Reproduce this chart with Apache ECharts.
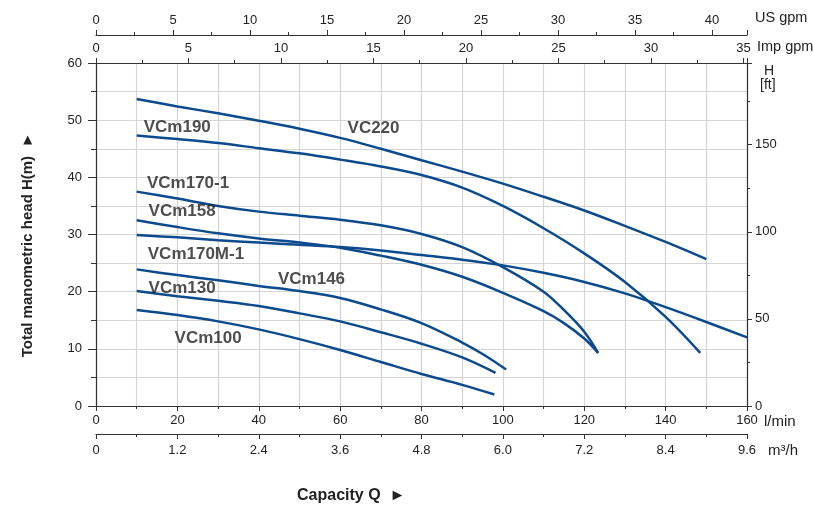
<!DOCTYPE html>
<html><head><meta charset="utf-8">
<script src="https://cdn.jsdelivr.net/npm/echarts@6/dist/echarts.min.js"></script>
<style>html,body{margin:0;padding:0;background:#fff}#c{width:813px;height:512px}</style>
</head><body><div id="c"></div>
<script>
// Flow in l/min, head in m
const flowVC220 = [10,20,30,40,50,60,70,80,90,100,110,120,130,140,150];
const headVC220 = [53.7,52.4,51.2,49.9,48.5,46.9,45.0,43.0,41.0,38.9,36.6,34.2,31.5,28.7,25.7];
const flowVCm190 = [10,20,30,40,50,60,70,80,90,100,110,120,130,140,148.5];
const headVCm190 = [47.3,46.7,46.0,45.1,44.2,43.1,41.9,40.4,38.2,35.0,31.1,26.7,21.7,15.6,9.3];
const flowVCm170_1 = [10,20,30,40,50,60,70,80,90,100,110,115,120,123.4];
const headVCm170_1 = [37.5,36.3,35.0,34.0,33.3,32.6,31.6,30.1,27.8,24.3,20.0,16.8,13.0,9.3];
const flowVCm158 = [10,20,30,40,50,60,70,80,90,100,110,115,120,123.4];
const headVCm158 = [32.5,31.3,30.2,29.3,28.6,27.7,26.3,24.7,22.6,19.8,16.6,14.5,11.8,9.3];
const flowVCm170M_1 = [10,20,30,40,50,60,70,80,90,100,110,120,130,140,150,160];
const headVCm170M_1 = [29.9,29.5,29.0,28.6,28.2,27.8,27.2,26.4,25.6,24.6,23.3,21.7,19.7,17.3,14.7,12.0];
const flowVCm146 = [10,20,30,40,50,60,70,80,90,95,100.8];
const headVCm146 = [23.9,22.9,22.0,21.0,20.1,18.9,16.9,14.5,11.1,9.1,6.4];
const flowVCm130 = [10,20,30,40,50,60,70,80,90,98.2];
const headVCm130 = [20.1,19.2,18.4,17.5,16.2,14.8,12.9,10.9,8.5,5.8];
const flowVCm100 = [10,20,30,40,50,60,70,80,90,97.9];
const headVCm100 = [16.8,15.9,14.8,13.4,11.7,9.8,7.7,5.6,3.7,2.0];

// Curve labels (left anchor)
const labelNames = ['VCm190','VC220','VCm170-1','VCm158','VCm170M-1','VCm146','VCm130','VCm100'];
const labelFlow  = [11.6, 61.7, 12.4, 12.8, 12.6, 44.6, 12.8, 19.2];
const labelHead  = [48.8, 48.5, 39.0, 34.0, 26.5, 22.2, 20.5, 11.9];

const LPM_PER_IMP = 4.54609, LPM_PER_US = 3.78541, M_PER_FT = 0.3048;
const FONT = 'Liberation Sans, Arial, sans-serif';
const LINE = '#0b4a8d';
const TXT = '#222';
const AX = '#333';
const GRIDC = '#d4d4d4';

function pairs(f,h){ return f.map((q,i)=>[q,h[i]]); }
function isMult(v,s){ return Math.abs(v/s - Math.round(v/s)) < 1e-6; }

const curves = [
  pairs(flowVC220, headVC220), pairs(flowVCm190, headVCm190),
  pairs(flowVCm170_1, headVCm170_1), pairs(flowVCm158, headVCm158),
  pairs(flowVCm170M_1, headVCm170M_1), pairs(flowVCm146, headVCm146),
  pairs(flowVCm130, headVCm130), pairs(flowVCm100, headVCm100)
];

const baseAxis = {
  axisLine:{show:true,onZero:false,lineStyle:{color:AX,width:1.2}},
  axisTick:{show:true,length:5,lineStyle:{color:AX,width:1}},
  minorTick:{show:true,splitNumber:2,length:3,lineStyle:{color:AX,width:1}},
  axisLabel:{fontSize:13,color:TXT,fontFamily:FONT},
  splitLine:{show:false}
};
function ax(o){ return Object.assign({}, JSON.parse(JSON.stringify(baseAxis)), o); }

const chart = echarts.init(document.getElementById('c'));
chart.setOption({
  animation:false,
  grid:{left:96,right:66,top:63,bottom:106},
  xAxis:[
    ax({type:'value',position:'bottom',offset:0,min:0,max:160,interval:20,
        axisLabel:{fontSize:13,color:TXT,fontFamily:FONT,margin:8},
        splitLine:{show:true,lineStyle:{color:GRIDC,width:1.2}},
        minorSplitLine:{show:true,lineStyle:{color:GRIDC,width:1.2}}}),
    ax({type:'value',position:'bottom',offset:28,min:0,max:9.6,interval:1.2,
        axisLabel:{fontSize:13,color:TXT,fontFamily:FONT,margin:10,
          formatter:v=> v===0?'0':v.toFixed(1)}}),
    ax({type:'value',position:'top',offset:0,min:0,max:160/LPM_PER_IMP,interval:5,
        axisLabel:{fontSize:13,color:TXT,fontFamily:FONT,margin:8,
          formatter:v=> isMult(v,5)?String(Math.round(v)):''}}),
    ax({type:'value',position:'top',offset:28,min:0,max:160/LPM_PER_US,interval:5,
        axisLabel:{fontSize:13,color:TXT,fontFamily:FONT,margin:8,
          formatter:v=> isMult(v,5)?String(Math.round(v)):''}})
  ],
  yAxis:[
    ax({type:'value',position:'left',min:0,max:60,interval:10,
        axisLabel:{fontSize:13,color:TXT,fontFamily:FONT,margin:14},
        axisTick:{show:true,length:8,lineStyle:{color:AX,width:1}},
        minorTick:{show:true,splitNumber:2,length:5,lineStyle:{color:AX,width:1}},
        splitLine:{show:true,lineStyle:{color:GRIDC,width:1.2}},
        minorSplitLine:{show:true,lineStyle:{color:GRIDC,width:1.2}}}),
    ax({type:'value',position:'right',min:0,max:60/M_PER_FT,interval:50,
        axisLabel:{fontSize:13,color:TXT,fontFamily:FONT,margin:8,
          formatter:v=> isMult(v,50)?String(Math.round(v)):''}})
  ],
  series: curves.map(d=>({
    type:'line',xAxisIndex:0,yAxisIndex:0,data:d,showSymbol:false,smooth:0.35,
    lineStyle:{color:LINE,width:2.5},z:3,silent:true
  })).concat([{
    type:'scatter',xAxisIndex:0,yAxisIndex:0,symbolSize:1,
    itemStyle:{color:'rgba(0,0,0,0)'},silent:true,z:4,
    data: labelNames.map((n,i)=>({name:n,value:[labelFlow[i],labelHead[i]]})),
    label:{show:true,position:'right',distance:0,formatter:'{b}',
      fontSize:17,fontWeight:'bold',color:TXT,fontFamily:FONT}
  }]),
  graphic:[
    {type:'text',left:755,top:10,style:{text:'US gpm',fontSize:14.5,fill:TXT,fontFamily:FONT}},
    {type:'text',left:757,top:39,style:{text:'Imp gpm',fontSize:14.5,fill:TXT,fontFamily:FONT}},
    {type:'text',left:764,top:64,style:{text:'H',fontSize:14,fill:TXT,fontFamily:FONT}},
    {type:'text',left:760,top:78,style:{text:'[ft]',fontSize:14,fill:TXT,fontFamily:FONT}},
    {type:'text',left:764,top:414,style:{text:'l/min',fontSize:15,fill:TXT,fontFamily:FONT}},
    {type:'text',left:768,top:443,style:{text:'m³/h',fontSize:15,fill:TXT,fontFamily:FONT}},
    {type:'text',x:28,y:245,rotation:Math.PI/2,
      style:{text:'Total manometric head H(m)  ►',fontSize:15,fontWeight:'bold',fill:TXT,fontFamily:FONT,
        align:'center',verticalAlign:'middle'}},
    {type:'text',left:297,top:488,style:{text:'Capacity Q  ►',fontSize:16,fontWeight:'bold',fill:TXT,fontFamily:FONT}}
  ]
});
</script></body></html>
